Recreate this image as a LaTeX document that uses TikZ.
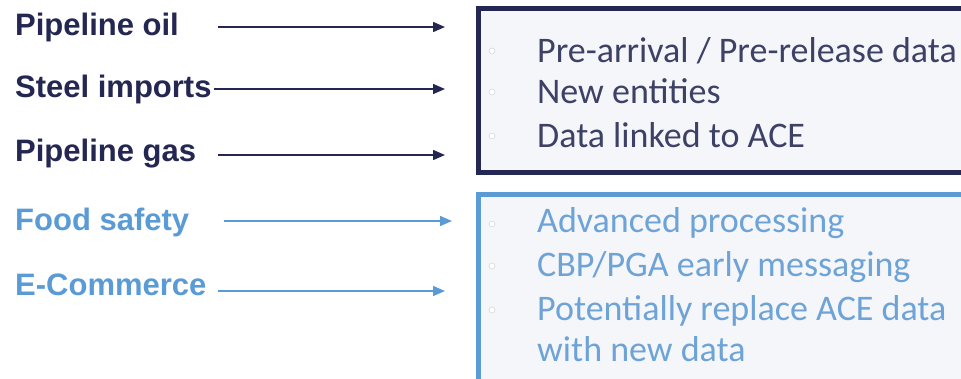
\documentclass[tikz,border=0pt]{standalone}
\usepackage{fontspec}
\setmainfont{Liberation Sans}
\newfontfamily\calib{Carlito}
\usetikzlibrary{arrows.meta}
\definecolor{navy}{HTML}{232752}
\definecolor{lblue}{HTML}{5B9BD5}
\definecolor{navytxt}{HTML}{3D4166}
\definecolor{bluetxt}{HTML}{6EA3D8}
\definecolor{boxfill}{HTML}{F5F6F9}
\begin{document}
\begin{tikzpicture}[x=1pt,y=-1pt,
  lbl/.style={anchor=base west,inner sep=0pt,font=\fontsize{31}{37}\selectfont\bfseries},
  itm/.style={anchor=base west,inner sep=0pt,font=\calib\fontsize{36}{43}\selectfont},
  arr/.style={line width=1.5pt,-{Triangle[length=12pt,width=10pt]}},
  bul/.style={circle,draw=gray!30,fill=white,line width=0.6pt,minimum size=6pt,inner sep=0pt},
  panel/.style={fill=boxfill,line width=4.5pt}]
\useasboundingbox (0,0) rectangle (961,378);
\clip (0,0) rectangle (961,378);
% boxes
\node[panel,draw=navy,anchor=north west,minimum width=520pt,minimum height=164pt,inner sep=0pt] (boxA) at (476,6) {};
\node[panel,draw=lblue,anchor=north west,minimum width=520pt,minimum height=230pt,inner sep=0pt] (boxB) at (476,192) {};
% left labels
\node[lbl,text=navy] (l1) at (15,35) {Pipeline oil};
\node[lbl,text=navy] (l2) at (15,97) {Steel imports};
\node[lbl,text=navy] (l3) at (15,161) {Pipeline gas};
\node[lbl,text=lblue] (l4) at (15,230) {Food safety};
\node[lbl,text=lblue] (l5) at (15,295) {E-Commerce};
% arrow endpoints
\coordinate (s1) at (218,27);  \coordinate (e1) at (445,27);
\coordinate (s2) at (214,89);  \coordinate (e2) at (445,89);
\coordinate (s3) at (218,155); \coordinate (e3) at (445,155);
\coordinate (s4) at (224,221); \coordinate (e4) at (452,221);
\coordinate (s5) at (218,291); \coordinate (e5) at (445,291);
\draw[arr,navy] (s1) -- (e1);
\draw[arr,navy] (s2) -- (e2);
\draw[arr,navy] (s3) -- (e3);
\draw[arr,lblue] (s4) -- (e4);
\draw[arr,lblue] (s5) -- (e5);
% top box items
\node[itm,text=navytxt] (a1) at (537,62) {Pre-arrival / Pre-release data};
\node[itm,text=navytxt] (a2) at (537,103) {New entities};
\node[itm,text=navytxt] (a3) at (537,147) {Data linked to ACE};
\node[bul] (ba1) at (492,51) {};
\node[bul] (ba2) at (492,92) {};
\node[bul] (ba3) at (492,136) {};
% bottom box items
\node[itm,text=bluetxt] (b1) at (537,232) {Advanced processing};
\node[itm,text=bluetxt] (b2) at (537,276) {CBP/PGA early messaging};
\node[itm,text=bluetxt] (b3) at (537,320) {Potentially replace ACE data};
\node[itm,text=bluetxt] (b4) at (537,361) {with new data};
\node[bul] (bb1) at (492,224) {};
\node[bul] (bb2) at (492,266) {};
\node[bul] (bb3) at (492,310) {};
\end{tikzpicture}
\end{document}
